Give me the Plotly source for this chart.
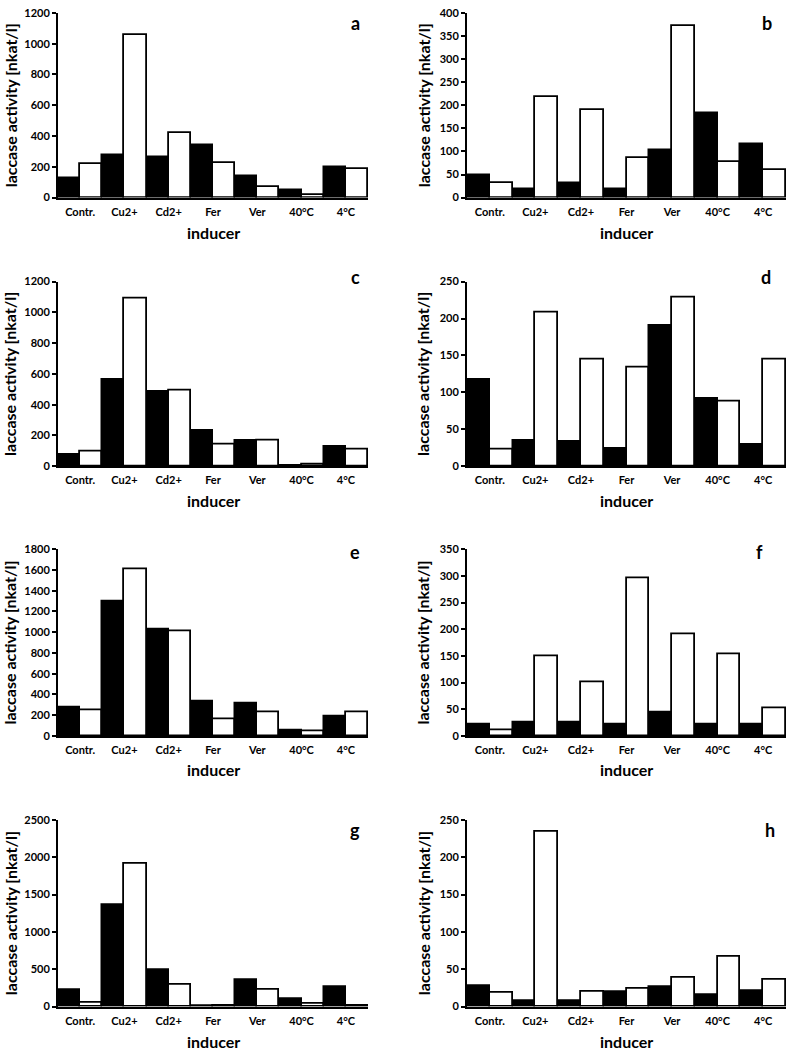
import plotly.graph_objects as go
from plotly.subplots import make_subplots

categories = ["Contr.", "Cu2+", "Cd2+", "Fer", "Ver", "40°C", "4°C"]

a_black = [126, 275, 262, 345, 141, 53, 200]
a_white = [222, 1060, 418, 228, 72, 15, 185]
b_black = [50, 19, 32, 19, 103, 183, 117]
b_white = [31, 218, 190, 85, 372, 77, 59]
c_black = [75, 561, 484, 233, 166, 2, 128]
c_white = [93, 1092, 490, 144, 170, 13, 110]
d_black = [118, 35, 33, 24, 191, 91, 29]
d_white = [22, 208, 144, 134, 228, 88, 144]
e_black = [280, 1300, 1030, 334, 318, 54, 194]
e_white = [250, 1610, 1005, 159, 226, 41, 226]
f_black = [22, 26, 26, 22, 44, 21, 21]
f_white = [10, 149, 100, 296, 190, 153, 51]
g_black = [226, 1368, 496, 5, 363, 97, 261]
g_white = [49, 1915, 288, 3, 221, 40, 5]
h_black = [28, 8, 8, 19, 26, 15, 21]
h_white = [18, 234, 20, 23, 38, 66, 36]

panel_letters = ["a", "b", "c", "d", "e", "f", "g", "h"]
blacks = [a_black, b_black, c_black, d_black, e_black, f_black, g_black, h_black]
whites = [a_white, b_white, c_white, d_white, e_white, f_white, g_white, h_white]
y_max = [1200, 400, 1200, 250, 1800, 350, 2500, 250]
y_dtick = [200, 50, 200, 50, 200, 50, 500, 50]

W, H = 787, 1053
FONT = "Lato"

# layout geometry in pixels
col_x = [(58, 368), (467, 786)]
row_y = [(6, 193), (278, 465), (549, 738), (823, 1012)]
ytitle_x = [10, 423]
xtitle_gap = [35, 35, 34, 35]
letter_pos = [(355, 16), (767, 16), (355, 273), (766, 273),
              (355, 552), (759, 552), (355, 833), (770, 833)]

fig = make_subplots(rows=4, cols=2)

annotations = []
for i in range(8):
    r, c = i // 2, i % 2
    fig.add_trace(go.Bar(x=categories, y=blacks[i], marker=dict(color="black", line=dict(color="black", width=1.5)),
                         showlegend=False, hoverinfo="skip"), row=r + 1, col=c + 1)
    fig.add_trace(go.Bar(x=categories, y=whites[i], marker=dict(color="white", line=dict(color="black", width=1.8)),
                         showlegend=False, hoverinfo="skip"), row=r + 1, col=c + 1)
    x0, x1 = col_x[c]
    yt, yb = row_y[r]
    xa = "xaxis" if i == 0 else f"xaxis{i + 1}"
    ya = "yaxis" if i == 0 else f"yaxis{i + 1}"
    fig.layout[xa].update(domain=[x0 / W, x1 / W], showline=True, linecolor="black", linewidth=2,
                          ticks="outside", ticklen=3, tickcolor="rgba(0,0,0,0)", showgrid=False, zeroline=False,
                          tickfont=dict(family=FONT, size=11, color="black", weight="bold"))
    fig.layout[ya].update(domain=[1 - yb / H, 1 - yt / H], range=[0, y_max[i]], dtick=y_dtick[i],
                          showline=True, linecolor="black", linewidth=2, ticks="outside", ticklen=4,
                          tickwidth=1.5, tickcolor="black", showgrid=False, zeroline=False,
                          tickfont=dict(family=FONT, size=11, color="black", weight="bold"))
    # y title
    annotations.append(dict(text="laccase activity [nkat/l]", textangle=-90, xref="paper", yref="paper",
                            x=ytitle_x[c] / W, y=1 - (yt + yb) / 2 / H, xanchor="center", yanchor="middle",
                            showarrow=False, font=dict(family=FONT, size=16, color="black", weight="bold")))
    # x title
    annotations.append(dict(text="inducer", xref="paper", yref="paper",
                            x=(x0 + x1) / 2 / W, y=1 - (yb + xtitle_gap[r]) / H, xanchor="center",
                            yanchor="middle", showarrow=False,
                            font=dict(family=FONT, size=16, color="black", weight="bold")))
    lx, ly = letter_pos[i]
    annotations.append(dict(text=panel_letters[i], xref="paper", yref="paper", x=lx / W, y=1 - ly / H,
                            xanchor="center", yanchor="middle", showarrow=False,
                            font=dict(family=FONT, size=18, color="black", weight="bold")))

fig.update_layout(width=W, height=H, margin=dict(l=0, r=0, t=0, b=0), barmode="group",
                  bargap=0, bargroupgap=0, plot_bgcolor="white", paper_bgcolor="white",
                  annotations=annotations, showlegend=False)

fig.write_html("out.html", config={"displayModeBar": False},
               post_script="document.body.style.margin='0';document.body.style.overflow='hidden';")
